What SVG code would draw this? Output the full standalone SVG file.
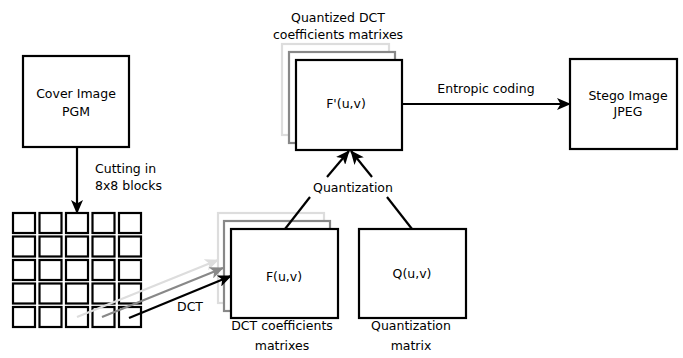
<svg xmlns="http://www.w3.org/2000/svg" width="683" height="358" viewBox="0 0 683 358">
<style>
text{font-family:"DejaVu Sans","Liberation Sans",sans-serif;font-size:12.5px;fill:#000;text-anchor:middle}
.box{fill:#fff;stroke:#000;stroke-width:2.2}
.cell{fill:#fff;stroke:#000;stroke-width:2.2}
.ln{fill:none;stroke:#000;stroke-width:2.2}
</style>
<defs>
<marker id="ah" markerWidth="14" markerHeight="12" refX="13" refY="6" orient="auto" markerUnits="userSpaceOnUse"><path d="M0,0 L14,6 L0,12 L3.5,6 Z" fill="#000"/></marker>
<marker id="ahg" markerWidth="14" markerHeight="12" refX="13" refY="6" orient="auto" markerUnits="userSpaceOnUse"><path d="M0,0 L14,6 L0,12 L3.5,6 Z" fill="#888"/></marker>
<marker id="ahl" markerWidth="14" markerHeight="12" refX="13" refY="6" orient="auto" markerUnits="userSpaceOnUse"><path d="M0,0 L14,6 L0,12 L3.5,6 Z" fill="#ddd"/></marker>
</defs>
<rect width="683" height="358" fill="#fff"/>
<g id="cover">
<rect class="box" x="23" y="56" width="106" height="91"/>
<text x="76" y="98">Cover Image</text>
<text x="76" y="116">PGM</text>
</g>
<g id="blocks">
<rect class="cell" x="13" y="213" width="22" height="20"/><rect class="cell" x="39.5" y="213" width="22" height="20"/><rect class="cell" x="66" y="213" width="22" height="20"/><rect class="cell" x="92.5" y="213" width="22" height="20"/><rect class="cell" x="119" y="213" width="22" height="20"/>
<rect class="cell" x="13" y="236.5" width="22" height="20"/><rect class="cell" x="39.5" y="236.5" width="22" height="20"/><rect class="cell" x="66" y="236.5" width="22" height="20"/><rect class="cell" x="92.5" y="236.5" width="22" height="20"/><rect class="cell" x="119" y="236.5" width="22" height="20"/>
<rect class="cell" x="13" y="260" width="22" height="20"/><rect class="cell" x="39.5" y="260" width="22" height="20"/><rect class="cell" x="66" y="260" width="22" height="20"/><rect class="cell" x="92.5" y="260" width="22" height="20"/><rect class="cell" x="119" y="260" width="22" height="20"/>
<rect class="cell" x="13" y="283.5" width="22" height="20"/><rect class="cell" x="39.5" y="283.5" width="22" height="20"/><rect class="cell" x="66" y="283.5" width="22" height="20"/><rect class="cell" x="92.5" y="283.5" width="22" height="20"/><rect class="cell" x="119" y="283.5" width="22" height="20"/>
<rect class="cell" x="13" y="307" width="22" height="20"/><rect class="cell" x="39.5" y="307" width="22" height="20"/><rect class="cell" x="66" y="307" width="22" height="20"/><rect class="cell" x="92.5" y="307" width="22" height="20"/><rect class="cell" x="119" y="307" width="22" height="20"/>
</g>
<g id="dct">
<rect x="218" y="213" width="106" height="90" fill="#fff" stroke="#ddd" stroke-width="2.2"/>
<rect x="224" y="221" width="106" height="90" fill="#fff" stroke="#888" stroke-width="2.2"/>
<rect class="box" x="231" y="229" width="107" height="89"/>
<text x="284" y="281">F(u,v)</text>
<text x="282" y="330">DCT coefficients</text>
<text x="282" y="350">matrixes</text>
</g>
<g id="qmatrix">
<rect class="box" x="359" y="229" width="107" height="89"/>
<text x="412" y="278">Q(u,v)</text>
<text x="411" y="330">Quantization</text>
<text x="411" y="350">matrix</text>
</g>
<g id="quantized">
<rect x="282" y="44" width="107" height="91" fill="#fff" stroke="#ddd" stroke-width="2.2"/>
<rect x="289" y="52" width="106" height="91" fill="#fff" stroke="#888" stroke-width="2.2"/>
<rect class="box" x="296" y="60" width="106" height="90"/>
<text x="346" y="108">F'(u,v)</text>
<text x="338" y="22">Quantized DCT</text>
<text x="338" y="39">coefficients matrixes</text>
</g>
<g id="stego">
<rect class="box" x="570" y="59" width="107" height="90"/>
<text x="628" y="100">Stego Image</text>
<text x="628" y="116">JPEG</text>
</g>
<g id="connectors">
<line class="ln" x1="77" y1="147" x2="77" y2="213" marker-end="url(#ah)"/>
<text x="95" y="173" style="text-anchor:start">Cutting in</text>
<text x="95" y="190" style="text-anchor:start">8x8 blocks</text>
<line x1="77" y1="317" x2="218" y2="260" stroke="#ddd" stroke-width="2.2" marker-end="url(#ahl)"/>
<line x1="102" y1="317" x2="223" y2="268" stroke="#888" stroke-width="2.2" marker-end="url(#ahg)"/>
<line class="ln" x1="129" y1="318" x2="231" y2="276" marker-end="url(#ah)"/>
<text x="190" y="311">DCT</text>
<line class="ln" x1="285" y1="229" x2="310" y2="197"/>
<line class="ln" x1="412" y1="229" x2="387" y2="197"/>
<text x="353" y="192">Quantization</text>
<line class="ln" x1="327" y1="177" x2="349" y2="151" marker-end="url(#ah)"/>
<line class="ln" x1="372" y1="177" x2="351" y2="151" marker-end="url(#ah)"/>
<line class="ln" x1="402" y1="104" x2="570" y2="104" marker-end="url(#ah)"/>
<text x="486" y="93">Entropic coding</text>
</g>
</svg>
